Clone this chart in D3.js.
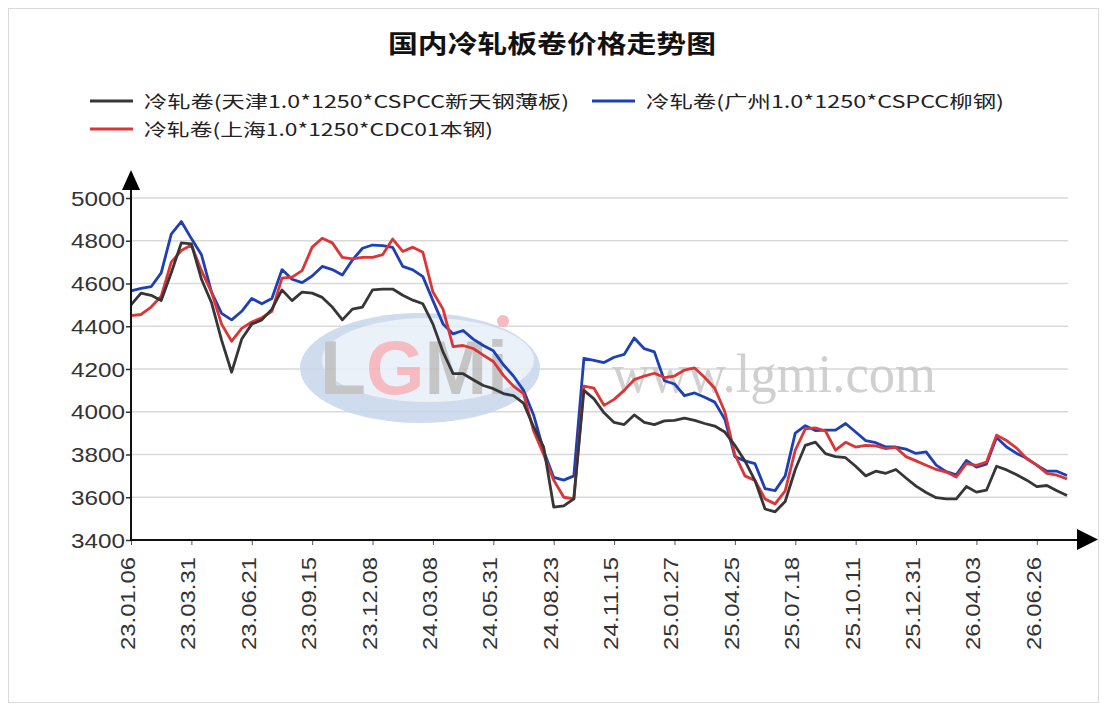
<!DOCTYPE html>
<html>
<head>
<meta charset="utf-8">
<script src="https://cdn.jsdelivr.net/npm/d3@7"></script>
<style>
  body { margin: 0; background: #fff; }
  svg { display: block; }
</style>
</head>
<body>
<script>
// weekly points; one value read every STEP weeks
var STEP = 2;
var LABEL_EVERY = 12;

var xLabels = ["23.01.06", "23.03.31", "23.06.21", "23.09.15", "23.12.08", "24.03.08",
    "24.05.31", "24.08.23", "24.11.15", "25.01.27", "25.04.25", "25.07.18",
    "25.10.11", "25.12.31", "26.04.03", "26.06.26"];

var yTicks = [3400, 3600, 3800, 4000, 4200, 4400, 4600, 4800, 5000];

var seriesNames = ["冷轧卷(天津1.0*1250*CSPCC新天钢薄板)",
    "冷轧卷(广州1.0*1250*CSPCC柳钢)",
    "冷轧卷(上海1.0*1250*CDC01本钢)"];

var tianjin = [4500, 4555, 4545, 4520, 4650, 4790, 4785, 4620, 4510, 4335,
    4185, 4340, 4410, 4430, 4480, 4570, 4520, 4560, 4555, 4535,
    4490, 4430, 4480, 4490, 4570, 4574, 4574, 4545, 4522, 4505,
    4410, 4280, 4178, 4178, 4150, 4123, 4108, 4085, 4075, 4040,
    3930, 3835, 3554, 3560, 3592, 4100, 4060, 3995, 3950, 3940,
    3985, 3950, 3940, 3957, 3960, 3970, 3960, 3945, 3933, 3905,
    3843, 3770, 3678, 3545, 3532, 3580, 3730, 3843, 3858, 3804,
    3790, 3785, 3745, 3700, 3722, 3712, 3730, 3690, 3652, 3622,
    3598, 3592, 3592, 3650, 3624, 3633, 3745, 3728, 3705, 3680,
    3650, 3655, 3630, 3608];

var guangzhou = [4565, 4577, 4585, 4650, 4831, 4890, 4810, 4735, 4560, 4460,
    4430, 4470, 4530, 4505, 4530, 4665, 4620, 4604, 4635, 4680,
    4665, 4640, 4710, 4765, 4780, 4777, 4769, 4680, 4664, 4632,
    4520, 4411, 4364, 4380, 4340, 4310, 4285, 4220, 4167, 4100,
    3985, 3818, 3693, 3680, 3700, 4250, 4240, 4230, 4255, 4268,
    4345, 4295, 4280, 4145, 4130, 4075, 4088, 4068, 4045, 3965,
    3790, 3770, 3757, 3640, 3631, 3700, 3900, 3935, 3912, 3914,
    3914, 3945, 3905, 3865, 3855, 3835, 3835, 3825, 3805, 3812,
    3750, 3720, 3705, 3772, 3741, 3755, 3880, 3835, 3805, 3782,
    3750, 3722, 3722, 3702];

var shanghai = [4450, 4455, 4490, 4540, 4700, 4754, 4780, 4660, 4560, 4410,
    4330, 4390, 4420, 4440, 4470, 4625, 4630, 4660, 4770, 4812,
    4790, 4722, 4715, 4722, 4722, 4735, 4808, 4750, 4770, 4746,
    4560, 4480, 4305, 4310, 4296, 4265, 4235, 4170, 4120, 4085,
    3911, 3800, 3680, 3600, 3592, 4120, 4110, 4030, 4058, 4100,
    4150, 4167, 4180, 4160, 4167, 4195, 4205, 4160, 4110, 4000,
    3800, 3700, 3678, 3592, 3569, 3630, 3820, 3920, 3925, 3910,
    3820, 3857, 3835, 3843, 3840, 3827, 3833, 3790, 3770, 3750,
    3730, 3718, 3695, 3757, 3749, 3765, 3890, 3865, 3830, 3780,
    3750, 3712, 3703, 3686];

var colors = ["#363636", "#1f3fb5", "#dd3535"];
var series = [tianjin, guangzhou, shanghai];

var width = 1107, height = 711;
var plotLeft = 131, plotRight = 1067, plotTop = 198, plotBottom = 540;

var svg = d3.select("body").append("svg")
    .attr("width", width)
    .attr("height", height);

svg.append("rect")
    .attr("x", 8.5).attr("y", 8.5)
    .attr("width", 1090).attr("height", 694)
    .attr("fill", "#fff")
    .attr("stroke", "#dadada");

var x = d3.scaleLinear()
    .domain([0, (tianjin.length - 1) * STEP])
    .range([plotLeft, plotRight]);

var y = d3.scaleLinear()
    .domain([3400, 5000])
    .range([plotBottom, plotTop]);

// title
svg.append("text")
    .attr("x", 552).attr("y", 53)
    .attr("text-anchor", "middle")
    .attr("font-family", "'Noto Sans CJK SC', sans-serif")
    .attr("font-weight", "bold")
    .attr("font-size", 25)
    .attr("fill", "#111")
    .attr("textLength", 328)
    .attr("lengthAdjust", "spacingAndGlyphs")
    .text("国内冷轧板卷价格走势图");

// legend
var legendItems = [
    {name: seriesNames[0], color: colors[0], x: 90, y: 101, len: 425},
    {name: seriesNames[1], color: colors[1], x: 592, y: 101, len: 358},
    {name: seriesNames[2], color: colors[2], x: 90, y: 129, len: 349}
];

var legend = svg.append("g").attr("class", "legend");
legendItems.forEach(function(d) {
    legend.append("line")
        .attr("x1", d.x).attr("x2", d.x + 43)
        .attr("y1", d.y).attr("y2", d.y)
        .attr("stroke", d.color)
        .attr("stroke-width", 3);
    legend.append("text")
        .attr("x", d.x + 54).attr("y", d.y + 7)
        .attr("font-family", "'Noto Sans CJK SC', sans-serif")
        .attr("font-size", 17.5)
        .attr("fill", "#222")
        .attr("textLength", d.len)
        .attr("lengthAdjust", "spacingAndGlyphs")
        .text(d.name);
});

// grid
svg.append("g").attr("class", "grid")
    .selectAll("line")
    .data(yTicks.slice(1))
    .enter().append("line")
    .attr("x1", plotLeft).attr("x2", plotRight + 1)
    .attr("y1", function(d) { return y(d); })
    .attr("y2", function(d) { return y(d); })
    .attr("stroke", "#d9d9d9")
    .attr("stroke-width", 1.3);

// watermark
var wm = svg.append("g").attr("class", "watermark").attr("opacity", 0.85);
wm.append("ellipse")
    .attr("cx", 420).attr("cy", 368).attr("rx", 120).attr("ry", 55)
    .attr("fill", "#c6d7eb");
wm.append("ellipse")
    .attr("cx", 428).attr("cy", 360).attr("rx", 106).attr("ry", 42)
    .attr("fill", "#e8eff8");
var logo = wm.append("text")
    .attr("x", 320).attr("y", 394)
    .attr("font-family", "'Liberation Sans', Arial, sans-serif")
    .attr("font-weight", "bold")
    .attr("font-size", 76)
    .attr("textLength", 188)
    .attr("lengthAdjust", "spacingAndGlyphs");
logo.append("tspan").attr("fill", "#bcbcbc").text("L");
logo.append("tspan").attr("fill", "#f5b0b7").text("G");
logo.append("tspan").attr("fill", "#bcbcbc").text("Mi");
wm.append("circle")
    .attr("cx", 503).attr("cy", 321).attr("r", 6)
    .attr("fill", "#f5b0b7");
wm.append("text")
    .attr("x", 612).attr("y", 392)
    .attr("font-family", "'Liberation Serif', 'Times New Roman', serif")
    .attr("font-size", 54)
    .attr("fill", "#c8c8c8")
    .attr("textLength", 324)
    .attr("lengthAdjust", "spacingAndGlyphs")
    .text("www.lgmi.com");

// lines
var line = d3.line()
    .x(function(d, i) { return x(i * STEP); })
    .y(function(d) { return y(d); });

var drawOrder = [1, 2, 0];
svg.append("g").attr("class", "lines")
    .selectAll("path")
    .data(drawOrder)
    .enter().append("path")
    .attr("d", function(s) { return line(series[s]); })
    .attr("fill", "none")
    .attr("stroke", function(s) { return colors[s]; })
    .attr("stroke-width", 2.8)
    .attr("stroke-linejoin", "round");

// y axis
var yAxis = d3.axisLeft(y)
    .tickValues(yTicks)
    .tickFormat(d3.format("d"))
    .tickSize(5)
    .tickPadding(1);

var gy = svg.append("g")
    .attr("transform", "translate(" + plotLeft + ",0)")
    .call(yAxis);
gy.select(".domain").remove();
gy.selectAll(".tick line").attr("stroke", "#333").attr("stroke-width", 1.5);
gy.selectAll(".tick text")
    .attr("font-family", "'Liberation Sans', Arial, sans-serif")
    .attr("font-size", 20)
    .attr("fill", "#333")
    .attr("dy", "0.35em")
    .attr("textLength", 54)
    .attr("lengthAdjust", "spacingAndGlyphs");

// x axis
var xAxis = d3.axisBottom(x)
    .tickValues(xLabels.map(function(d, i) { return i * LABEL_EVERY; }))
    .tickFormat(function(d, i) { return xLabels[i]; })
    .tickSize(5);

var gx = svg.append("g")
    .attr("transform", "translate(0," + plotBottom + ")")
    .call(xAxis);
gx.select(".domain").remove();
gx.selectAll(".tick line").attr("stroke", "#555").attr("stroke-width", 1);
gx.selectAll(".tick text")
    .attr("transform", "rotate(-90)")
    .attr("text-anchor", "end")
    .attr("x", -17)
    .attr("y", 3.5)
    .attr("dy", 0)
    .attr("font-family", "'Liberation Sans', Arial, sans-serif")
    .attr("font-size", 21)
    .attr("fill", "#333")
    .attr("textLength", 93)
    .attr("lengthAdjust", "spacingAndGlyphs");

// axis lines with arrows
var axes = svg.append("g").attr("class", "axes");
axes.append("line")
    .attr("x1", plotLeft).attr("x2", plotLeft)
    .attr("y1", plotBottom + 1).attr("y2", 188)
    .attr("stroke", "#111").attr("stroke-width", 2);
axes.append("path")
    .attr("d", "M122,190L140,190L131,170Z")
    .attr("fill", "#000");
axes.append("line")
    .attr("x1", plotLeft - 1).attr("x2", 1080)
    .attr("y1", plotBottom).attr("y2", plotBottom)
    .attr("stroke", "#111").attr("stroke-width", 2);
axes.append("path")
    .attr("d", "M1077,529L1077,550L1098,539.5Z")
    .attr("fill", "#000");
</script>
</body>
</html>
